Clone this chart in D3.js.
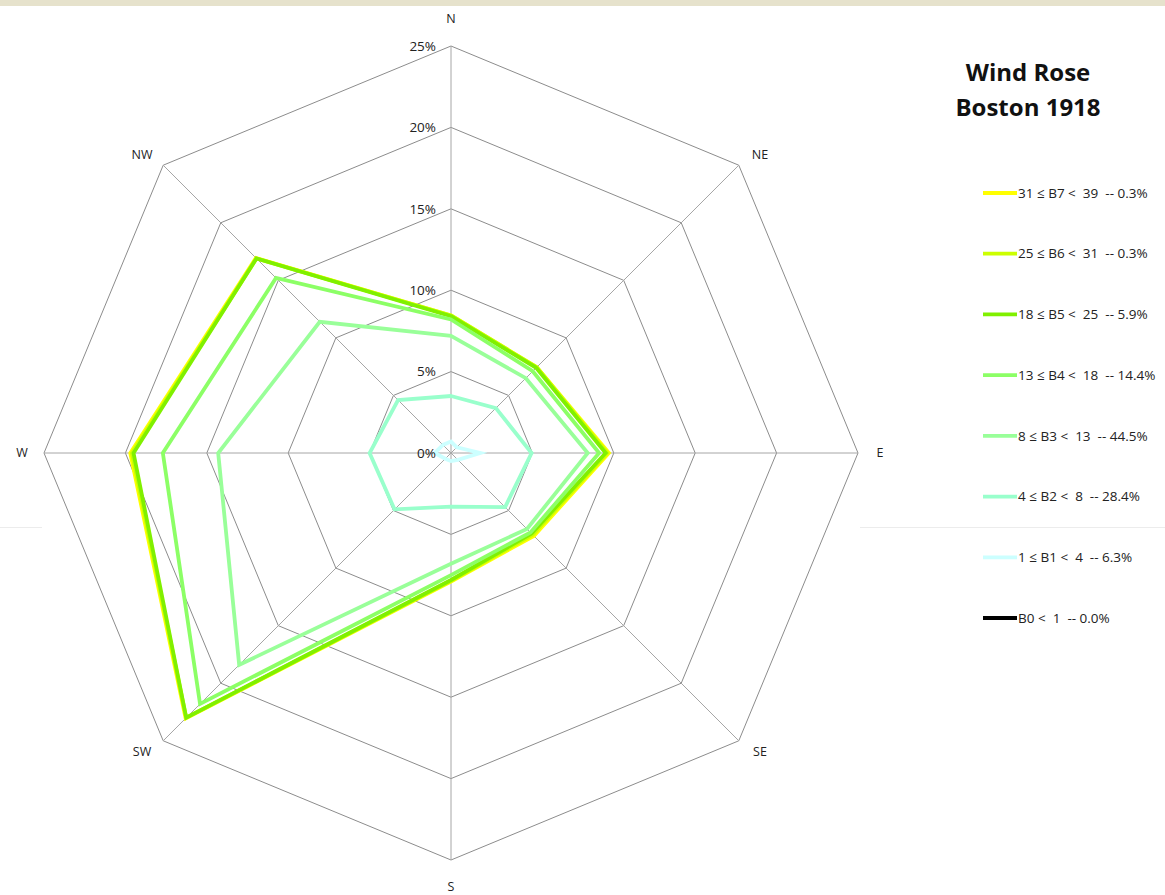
<!DOCTYPE html>
<html>
<head>
<meta charset="utf-8">
<script src="https://cdn.jsdelivr.net/npm/d3@7"></script>
<style>
	body { margin: 0; background: #fff; }
	svg { display: block; font-family: 'Open Sans', Lato, sans-serif; }
	.ring { fill: none; stroke: #8c8c8c; stroke-width: 1px; }
	.spoke { stroke: #a6a6a6; stroke-width: 1px; }
	.dirlabel { font-size: 12.5px; fill: #222; }
	.ticklabel { font-size: 13.5px; fill: #222; }
	.legtext { font-size: 13.5px; fill: #222; }
	.title { font-size: 24px; font-weight: bold; fill: #111; }
	.series { fill: none; stroke-width: 3.8px; stroke-linejoin: miter; }
</style>
</head>
<body>
<div id="chart"></div>
<script>
// directions go clockwise starting at north
var directions = ['N', 'NE', 'E', 'SE', 'S', 'SW', 'W', 'NW'];
var tickValues = [0, 5, 10, 15, 20, 25];

// cumulative percentages per direction (each class includes the ones below it)
var b0 = [0, 0, 0, 0, 0, 0, 0, 0];
var b1 = [0.7, 0.5, 1.8, 0.6, 0.5, 0.5, 1.0, 0.7];
var b2 = [3.5, 3.9, 4.95, 4.7, 3.3, 4.9, 5.0, 4.6];
var b3 = [7.2, 6.5, 8.4, 6.6, 6.8, 18.4, 14.3, 11.4];
var b4 = [8.2, 7.1, 9.1, 6.9, 7.5, 21.8, 17.7, 15.2];
var b5 = [8.4, 7.4, 9.5, 7.0, 7.8, 23.0, 19.5, 16.9];
var b6 = [8.45, 7.45, 9.6, 7.1, 7.85, 23.0, 19.6, 16.9];
var b7 = [8.45, 7.45, 9.7, 7.2, 7.9, 23.05, 19.7, 16.95];

var seriesNames = [
	'B0 <  1  -- 0.0%',
	'1 \u2264 B1 <  4  -- 6.3%',
	'4 \u2264 B2 <  8  -- 28.4%',
	'8 \u2264 B3 <  13  -- 44.5%',
	'13 \u2264 B4 <  18  -- 14.4%',
	'18 \u2264 B5 <  25  -- 5.9%',
	'25 \u2264 B6 <  31  -- 0.3%',
	'31 \u2264 B7 <  39  -- 0.3%'
];
var seriesColors = ['#000000', '#ccffff', '#99ffcc', '#99ff99', '#8cff66', '#80f000', '#ccff00', '#ffff00'];
var seriesValues = [b0, b1, b2, b3, b4, b5, b6, b7];

var width = 1165;
var height = 895;
var cx = 451;
var cy = 453;

var svg = d3.select('#chart').append('svg')
	.attr('width', width)
	.attr('height', height);

// beige strip along the top edge and the faint slide line
svg.append('rect').attr('x', 0).attr('y', 0).attr('width', width).attr('height', 6).attr('fill', '#e6e2cc');
svg.append('line').attr('x1', 0).attr('x2', 42).attr('y1', 527.5).attr('y2', 527.5).attr('stroke', '#ececec');
svg.append('line').attr('x1', 860).attr('x2', width).attr('y1', 527.5).attr('y2', 527.5).attr('stroke', '#ececec');

var r = d3.scaleLinear().domain([0, 25]).range([0, 407]);
var angle = d3.scaleLinear().domain([0, directions.length]).range([0, 2 * Math.PI]);

var g = svg.append('g').attr('transform', 'translate(' + cx + ',' + cy + ')');

var ringLine = d3.lineRadial()
	.angle(function(d, i) { return angle(i); })
	.radius(function(d) { return r(d); })
	.curve(d3.curveLinearClosed);

// grid rings
g.selectAll('.ring')
	.data(tickValues.slice(1))
	.enter()
		.append('path')
		.attr('class', 'ring')
		.attr('d', function(v) { return ringLine(directions.map(function() { return v; })); });

// spokes
g.selectAll('.spoke')
	.data(directions)
	.enter()
		.append('line')
		.attr('class', 'spoke')
		.attr('x1', 0).attr('y1', 0)
		.attr('x2', function(d, i) { return r(25) * Math.sin(angle(i)); })
		.attr('y2', function(d, i) { return -r(25) * Math.cos(angle(i)); });

// direction labels, diagonals sit a bit wider and lower than a plain circle
g.selectAll('.dirlabel')
	.data(directions)
	.enter()
		.append('text')
		.attr('class', 'dirlabel')
		.attr('text-anchor', 'middle')
		.attr('dy', '.35em')
		.attr('x', function(d, i) { return (i % 2 ? 437 : 429) * Math.sin(angle(i)); })
		.attr('y', function(d, i) { return -(i % 2 ? 422 : 434) * Math.cos(angle(i)); })
		.text(function(d) { return d; });

// series polygons, drawn from the top class down so the greens stay on top
g.selectAll('.series')
	.data(seriesValues.slice().reverse())
	.enter()
		.append('path')
		.attr('class', 'series')
		.attr('stroke', function(d, i) { return seriesColors[seriesColors.length - 1 - i]; })
		.attr('d', function(d) { return ringLine(d); });

// percent ticks along the north axis
g.selectAll('.ticklabel')
	.data(tickValues)
	.enter()
		.append('text')
		.attr('class', 'ticklabel')
		.attr('text-anchor', 'end')
		.attr('dy', '.35em')
		.attr('x', -15)
		.attr('y', function(v) { return -r(v); })
		.text(function(v) { return v + '%'; });

// title
svg.append('text').attr('class', 'title').attr('text-anchor', 'middle')
	.attr('x', 1028).attr('y', 81).text('Wind Rose');
svg.append('text').attr('class', 'title').attr('text-anchor', 'middle')
	.attr('x', 1028).attr('y', 116).text('Boston 1918');

// legend, highest class on top
var legendOrder = d3.range(seriesNames.length).reverse();
var legendY = d3.scalePoint().domain(legendOrder).range([193, 618]);

var leg = svg.selectAll('.leg')
	.data(legendOrder)
	.enter()
		.append('g')
		.attr('class', 'leg')
		.attr('transform', function(i) { return 'translate(983,' + legendY(i) + ')'; });

leg.append('line')
	.attr('x1', 0).attr('x2', 34)
	.attr('y1', 0).attr('y2', 0)
	.attr('stroke-width', 3.8)
	.attr('stroke', function(i) { return seriesColors[i]; });

leg.append('text')
	.attr('class', 'legtext')
	.attr('x', 35)
	.attr('dy', '.35em')
	.attr('xml:space', 'preserve')
	.style('white-space', 'pre')
	.text(function(i) { return seriesNames[i]; });
</script>
</body>
</html>
